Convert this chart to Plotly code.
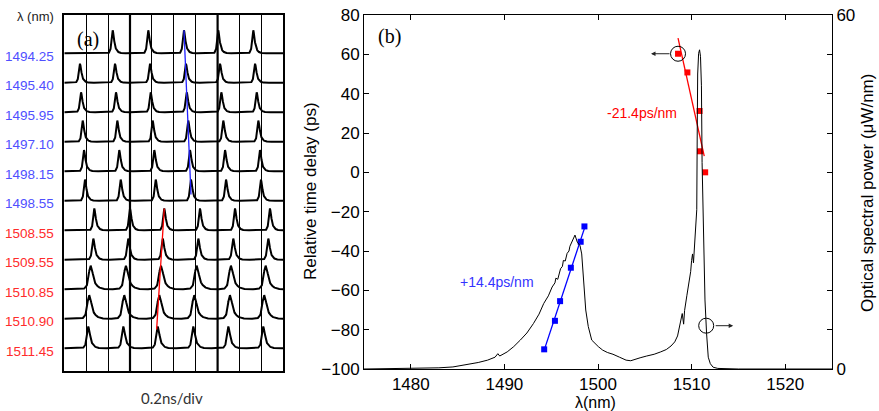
import numpy as np
import plotly.graph_objects as go

# ---------------- panel (b) data ----------------
blue_wl = [1494.25, 1495.40, 1495.95, 1497.10, 1498.15, 1498.55]
blue_delay = [-90.0, -75.5, -65.5, -48.5, -35.3, -27.5]
red_wl = [1508.55, 1509.55, 1510.85, 1510.90, 1511.45]
red_delay = [60.3, 50.8, 31.2, 10.7, 0.0]
blue_slope = 14.4
red_slope = -21.4

spec_wl = [1475.0, 1477, 1479, 1481, 1483, 1484.5, 1486, 1487.2, 1488.2, 1489.0, 1489.3, 1489.5,
           1490.3, 1491.0, 1491.7, 1492.4, 1493.1, 1493.7, 1494.2, 1494.7, 1495.1, 1495.4, 1495.5,
           1495.7, 1496.0, 1496.2, 1496.3, 1496.5, 1496.7, 1496.9, 1497.0, 1497.2, 1497.4, 1497.54,
           1497.79, 1498.08, 1498.26, 1498.43, 1498.69, 1498.96, 1499.33, 1500.03, 1500.5, 1501.0,
           1501.6, 1502.3, 1503.0, 1503.5, 1504.0, 1504.5, 1505.2, 1506.0, 1506.7, 1507.3, 1507.8,
           1508.2, 1508.5, 1508.8, 1509.0, 1509.15, 1509.25, 1509.5, 1509.7, 1509.9, 1510.0, 1510.1,
           1510.2, 1510.35, 1510.45, 1510.55, 1510.6, 1510.65, 1510.75, 1510.85, 1510.95, 1511.05,
           1511.12, 1511.2, 1511.3, 1511.43, 1511.6, 1511.78, 1512.0, 1512.3, 1512.8, 1513.5, 1515,
           1525]
spec_pw = [0.0, 0.02, 0.05, 0.1, 0.2, 0.35, 0.7, 1.1, 1.5, 2.0, 2.6, 2.2,
           2.9, 3.8, 4.9, 6.1, 7.7, 9.3, 11.1, 12.4, 13.9, 14.6, 15.4,
           15.2, 17.0, 17.4, 18.4, 18.3, 19.6, 20.0, 20.8, 21.5, 22.0, 22.7,
           21.5, 20.9, 19.5, 16.2, 10.0, 7.2, 4.9, 3.8, 3.2, 2.8,
           2.5, 2.0, 1.5, 1.4, 1.7, 1.9, 2.2, 2.5, 2.9, 3.3, 3.9,
           4.6, 5.6, 7.6, 9.4, 7.6, 9.9, 12.5, 14.2, 16.5, 18.4, 19.5,
           18.0, 22.0, 23.5, 27.0, 40.0, 50.0, 53.5, 54.1, 53.0, 48.0,
           35.0, 27.0, 20.0, 11.7, 6.0, 2.0, 0.9, 0.3, 0.1, 0.03, 0.0,
           0.0]

# ---------------- panel (a) data ----------------
row_labels = ["1494.25", "1495.40", "1495.95", "1497.10", "1498.15", "1498.55",
              "1508.55", "1509.55", "1510.85", "1510.90", "1511.45"]
row_group = ["blue"] * 6 + ["red"] * 5
# pulse peak times in ns for each oscilloscope row
row_peaks = [
    [0.442, 0.767, 1.093, 1.406, 1.726],
    [0.143, 0.463, 0.783, 1.111, 1.422, 1.742],
    [0.153, 0.472, 0.789, 1.118, 1.434, 1.757],
    [0.168, 0.484, 0.807, 1.132, 1.452, 1.772],
    [0.180, 0.502, 0.822, 1.148, 1.468, 1.787],
    [0.189, 0.515, 0.835, 1.157, 1.477, 1.796],
    [0.274, 0.600, 0.913, 1.239, 1.559, 1.878],
    [0.265, 0.584, 0.899, 1.224, 1.543, 1.863],
    [0.241, 0.563, 0.883, 1.209, 1.522, 1.839],
    [0.228, 0.548, 0.868, 1.187, 1.513, 1.826],
    [0.219, 0.539, 0.853, 1.178, 1.498, 1.817],
]
row_height = [0.78, 0.65, 0.68, 0.72, 0.72, 0.72, 0.74, 0.72, 0.8, 0.8, 0.74]
row_width = [1.0, 1.0, 1.0, 1.0, 1.0, 1.0, 1.0, 1.1, 1.7, 1.7, 1.3]
pulse_t = [-0.06, -0.035, -0.022, -0.014, -0.007, 0.0, 0.007, 0.015, 0.025, 0.04, 0.06, 0.09]
pulse_a = [0.0, 0.03, 0.12, 0.4, 0.82, 1.0, 0.85, 0.5, 0.25, 0.1, 0.03, 0.0]

BLUE = "#0000ff"
RED = "#ff0000"
LBL_BLUE = "#4f4fff"
LBL_RED = "#ff2b2b"
SANS = "Liberation Sans, Arial, sans-serif"
SERIF = "Liberation Serif, Times New Roman, serif"

W, H = 879, 411
fig = go.Figure()

# ---- panel (b) traces ----
fig.add_trace(go.Scatter(x=spec_wl, y=spec_pw, mode="lines", yaxis="y2", xaxis="x",
                         line=dict(color="black", width=1), showlegend=False))

bw = np.array(blue_wl); bd = np.array(blue_delay)
bx = np.array([bw.min(), bw.max()])
by = bd.mean() + blue_slope * (bx - bw.mean())
fig.add_trace(go.Scatter(x=bx, y=by, mode="lines", line=dict(color=BLUE, width=1.3),
                         xaxis="x", yaxis="y", showlegend=False))
fig.add_trace(go.Scatter(x=blue_wl, y=blue_delay, mode="markers",
                         marker=dict(symbol="square", size=6, color=BLUE),
                         xaxis="x", yaxis="y", showlegend=False))

rw = np.array(red_wl); rd = np.array(red_delay)
rx = np.array([rw.min(), rw.max() - 0.1])
ry = rd.mean() + 1.0 + red_slope * (rx - rw.mean())
fig.add_trace(go.Scatter(x=rx, y=ry, mode="lines", line=dict(color=RED, width=1.3),
                         xaxis="x", yaxis="y", showlegend=False))
fig.add_trace(go.Scatter(x=red_wl, y=red_delay, mode="markers",
                         marker=dict(symbol="square", size=6, color=RED),
                         xaxis="x", yaxis="y", showlegend=False))

# ---- panel (a) traces ----
tgrid = np.linspace(0, 2, 2001)
for i, peaks in enumerate(row_peaks):
    off = -i
    y = np.zeros_like(tgrid)
    for p in peaks:
        rel = (tgrid - p) / row_width[i]
        y += np.interp(rel, pulse_t, pulse_a, left=0, right=0)
    y = off + row_height[i] * y
    fig.add_trace(go.Scatter(x=tgrid, y=y, mode="lines", xaxis="x2", yaxis="y3",
                             line=dict(color="black", width=2), showlegend=False))

# guide lines in panel (a)
fig.add_trace(go.Scatter(x=[row_peaks[0][2], row_peaks[5][3]],
                         y=[0 + row_height[0], -5 + 0.3 * row_height[5]],
                         mode="lines", xaxis="x2", yaxis="y3",
                         line=dict(color="#2020ff", width=1.3), showlegend=False))
fig.add_trace(go.Scatter(x=[row_peaks[6][2], row_peaks[10][2] - 0.01],
                         y=[-6 + row_height[6], -10 + row_height[10] - 0.1],
                         mode="lines", xaxis="x2", yaxis="y3",
                         line=dict(color=RED, width=1.3), showlegend=False))

# ---- layout ----
xb = [364 / W, 832 / W]
yb = [1 - 369 / H, 1 - 15 / H]
xa = [64.3 / W, 283.3 / W]
ya = [1 - 371 / H, 1 - 15 / H]

tickfont = dict(family=SANS, size=17, color="black")
fig.update_layout(
    width=W, height=H, margin=dict(l=0, r=0, t=0, b=0, autoexpand=False),
    paper_bgcolor="white", plot_bgcolor="white", showlegend=False,
    xaxis=dict(domain=xb, range=[1475, 1525], anchor="y", tickvals=[1480, 1490, 1500, 1510, 1520],
               ticks="inside", ticklen=5, tickcolor="black", mirror="ticks", showline=True,
               linecolor="black", linewidth=1, showgrid=False, zeroline=False, tickfont=tickfont),
    yaxis=dict(domain=yb, range=[-100, 80], anchor="x", dtick=20, ticks="inside", ticklen=5,
               tickcolor="black", showline=True, linecolor="black", linewidth=1, showgrid=False,
               zeroline=False, tickfont=tickfont),
    yaxis2=dict(overlaying="y", side="right", anchor="x", range=[0, 60],
                tickvals=[k * 60 / 9 for k in range(10)],
                ticktext=["0"] + [""] * 8 + ["60"], ticks="inside", ticklen=5, tickcolor="black",
                showline=True, linecolor="black", linewidth=1, showgrid=False, zeroline=False,
                tickfont=tickfont),
    xaxis2=dict(domain=xa, range=[0, 2], anchor="y3", dtick=0.2, showticklabels=False,
                showgrid=True, gridcolor="black", gridwidth=1, zeroline=False, showline=True,
                mirror=True, linecolor="black", linewidth=2, ticks=""),
    yaxis3=dict(domain=ya, range=[-10.77, 1.30], anchor="x2", showticklabels=False,
                showgrid=False, zeroline=False, showline=True, mirror=True,
                linecolor="black", linewidth=2, ticks=""),
)

# thick division lines in panel (a)
for xv in [0.6, 1.4]:
    fig.add_shape(type="line", xref="x2", yref="y3 domain", x0=xv, x1=xv, y0=0, y1=1,
                  line=dict(color="black", width=2.2))

# circles marking the axis each curve belongs to
c2_wl = 1511.56
c2_pw = float(np.interp(c2_wl, spec_wl, spec_pw))
fig.add_shape(type="circle", xref="x", yref="y", xsizemode="pixel", ysizemode="pixel",
              xanchor=red_wl[0], yanchor=red_delay[0], x0=-7.5, x1=7.5, y0=-7.5, y1=7.5,
              line=dict(color="black", width=1))
fig.add_shape(type="circle", xref="x", yref="y2", xsizemode="pixel", ysizemode="pixel",
              xanchor=c2_wl, yanchor=c2_pw, x0=-7.5, x1=7.5, y0=-7.5, y1=7.5,
              line=dict(color="black", width=1))


def txt(x, y, text, size, color="black", family=SANS, angle=0, xanchor="center"):
    return dict(x=x / W, y=1 - y / H, xref="paper", yref="paper", text=text, showarrow=False,
                xanchor=xanchor, yanchor="middle", textangle=angle,
                font=dict(family=family, size=size, color=color))


ann = []
ann.append(dict(x=red_wl[0], y=red_delay[0], xref="x", yref="y", text="", showarrow=True,
                arrowhead=2, arrowsize=0.9, arrowwidth=1, arrowcolor="#222", ax=20, ay=0,
                xshift=-27))
ann.append(dict(x=c2_wl, y=c2_pw, xref="x", yref="y2", text="", showarrow=True,
                arrowhead=2, arrowsize=0.9, arrowwidth=1, arrowcolor="#222", ax=-19, ay=0,
                xshift=27))
ann.append(dict(x=1489.2, y=-56, xref="x", yref="y", text="+14.4ps/nm", showarrow=False,
                xanchor="center", yanchor="middle",
                font=dict(family=SANS, size=14, color="#3333ff")))
ann.append(dict(x=1504.65, y=30, xref="x", yref="y", text="-21.4ps/nm", showarrow=False,
                xanchor="center", yanchor="middle",
                font=dict(family=SANS, size=14, color=RED)))
ann.append(txt(389, 36, "(b)", 20, family=SERIF))
ann.append(txt(88, 39, "(a)", 20, family=SERIF))
ann.append(txt(310, 191, "Relative time delay (ps)", 17, angle=-90))
ann.append(txt(867, 193, "Optical spectral power (\u03bcW/nm)", 17, angle=-90))
ann.append(txt(595, 402, "\u03bb(nm)", 16))
ann.append(txt(35, 17, "\u03bb (nm)", 13, color="#222"))
ann.append(txt(172, 398, "0.2ns/div", 15, color="#333", family="Lato, Open Sans, sans-serif"))
for i, lab in enumerate(row_labels):
    ann.append(dict(x=56 / W, y=-i, xref="paper", yref="y3", text=lab, xanchor="right",
                    yanchor="middle", showarrow=False, yshift=-3,
                    font=dict(family=SANS, size=13.5,
                              color=LBL_BLUE if row_group[i] == "blue" else LBL_RED)))
fig.update_layout(annotations=ann)

fig.write_html("out.html", config={"displayModeBar": False},
               post_script="document.body.style.margin='0';document.body.style.padding='0';")
